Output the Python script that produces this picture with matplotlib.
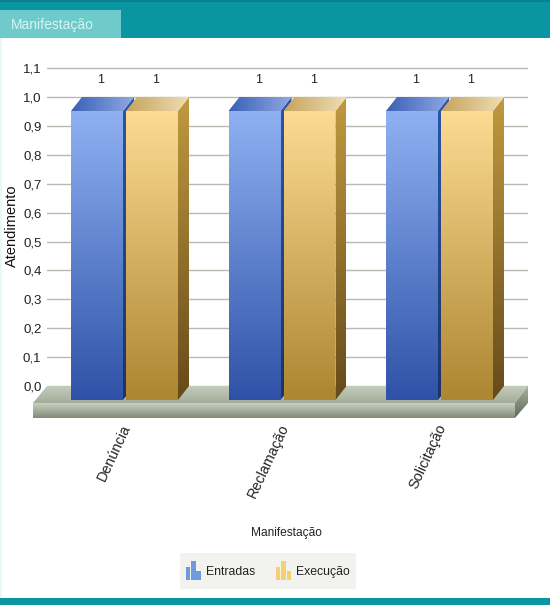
import matplotlib
matplotlib.use("Agg")
import matplotlib.pyplot as plt
import numpy as np
from matplotlib.colors import LinearSegmentedColormap
from matplotlib.legend_handler import HandlerBase
from matplotlib.patches import Patch, Polygon, Rectangle

plt.rcParams['font.family'] = ['Liberation Sans', 'DejaVu Sans']

categories = ["Denúncia", "Reclamação", "Solicitação"]
entradas = [1, 1, 1]
execucao = [1, 1, 1]
series_names = ["Entradas", "Execução"]
y_ticks = [0.0, 0.1, 0.2, 0.3, 0.4, 0.5, 0.6, 0.7, 0.8, 0.9, 1.0, 1.1]

# layout in pixels of the picture
W, H = 550, 605
px_x = 157.5   # one category
px_y = 289.0   # one unit of value
zero_y = 386
depth_x = 11 / px_x
depth_y = 14 / px_y
bar_w = 52 / px_x
bar_gap = 2 / px_x


def gradient(ax, verts, c0, c1, horizontal=False):
    # c0 is the bottom (or left) colour, c1 the top (or right) one
    verts = np.array(verts)
    cmap = LinearSegmentedColormap.from_list("g", [c0, c1])
    data = np.linspace(0, 1, 128).reshape(1, -1) if horizontal else np.linspace(0, 1, 128).reshape(-1, 1)
    ext = (verts[:, 0].min(), verts[:, 0].max(), verts[:, 1].min(), verts[:, 1].max())
    im = ax.imshow(data, cmap=cmap, extent=ext, aspect="auto", origin="lower", zorder=3, interpolation="bilinear")
    poly = Polygon(verts, closed=True, transform=ax.transData, fc="none", ec="none")
    im.set_clip_box(ax.figure.bbox)
    im.set_clip_path(poly)


def bar3d(ax, x, v, front, side, top):
    y0, y1 = -depth_y, v - depth_y
    x1 = x + bar_w
    gradient(ax, [(x, y0), (x1, y0), (x1, y1), (x, y1)], front[0], front[1])
    gradient(ax, [(x1, y0), (x1 + depth_x, y0 + depth_y), (x1 + depth_x, y1 + depth_y), (x1, y1)], side[0], side[1])
    gradient(ax, [(x, y1), (x1, y1), (x1 + depth_x, y1 + depth_y), (x + depth_x, y1 + depth_y)], top[0], top[1], horizontal=True)


class BarsIcon(HandlerBase):
    def create_artists(self, legend, orig, xd, yd, width, height, fontsize, trans):
        out = []
        for i, h in enumerate([9.5, 14, 6.5]):
            out.append(Rectangle((i * 3.8, -4), 3.1, h, fc=orig.get_facecolor(), ec="none", transform=trans))
        return out


fig = plt.figure(figsize=(W / 100, H / 100), dpi=100, facecolor="white")

# page around the chart
chrome = fig.add_axes([0, 0, 1, 1], zorder=-1)
chrome.set_xlim(0, W)
chrome.set_ylim(H, 0)
chrome.axis("off")
chrome.add_patch(Rectangle((0, 2), W, 36, fc="#0a95a3", ec="none"))
chrome.add_patch(Rectangle((0, 0), W, 2, fc="#0c7f8c", ec="none"))
chrome.add_patch(Rectangle((0, 10), 121, 28, fc="#6fcaca", ec="none"))
chrome.add_patch(Rectangle((0, 598), W, 7, fc="#0a95a3", ec="none"))
chrome.add_patch(Rectangle((0, 38), 2, 560, fc="#e6fafa", ec="none"))
chrome.text(11, 25, "Manifestação", color="#d8f4f2", fontsize=10, va="center", ha="left")

# main axes: from x 47 to 528, y 60 to 420
ax = fig.add_axes([47 / W, (H - 420) / H, (528 - 47) / W, (420 - 60) / H])
ax.patch.set_alpha(0)
for s in ax.spines.values():
    s.set_visible(False)

xpos = np.arange(len(categories))
center_0 = 124
xlim = ((47 - center_0) / px_x, (528 - center_0) / px_x)
ylim = ((zero_y - 420) / px_y, (zero_y - 60) / px_y)

# floor
fl = -17 / px_y
fr = -32 / px_y
fx0, fx1 = xlim[0], xlim[1]
dfx = 14 / px_x
gradient(ax, [(fx0 - dfx, fl), (fx1 - dfx + 1 / px_x, fl), (fx1, 0), (fx0, 0)], "#a4ac9a", "#c4cdbc")
gradient(ax, [(fx0 - dfx, fr), (fx1 - dfx + 1 / px_x, fr), (fx1 - dfx + 1 / px_x, fl), (fx0 - dfx, fl)], "#7f8b7a", "#c8d0c0")
gradient(ax, [(fx1 - dfx + 1 / px_x, fr), (fx1, fl), (fx1, 0), (fx1 - dfx + 1 / px_x, fl)], "#5f6a58", "#a8b09e")

blue = dict(front=("#2f52a8", "#8fb1f2"), side=("#1b3468", "#2d55ab"), top=("#3a60b6", "#90a9e4"))
gold = dict(front=("#ad8632", "#fcdb92"), side=("#664a1a", "#c09a40"), top=("#c6a45c", "#f0deb4"))

for i, x in enumerate(xpos):
    left = x - bar_w - bar_gap / 2
    right = x + bar_gap / 2 + 1 / px_x
    bar3d(ax, left, entradas[i], **blue)
    bar3d(ax, right, execucao[i], **gold)
    ax.text(left + bar_w / 2 + 4 / px_x, entradas[i] + 17 / px_y, str(entradas[i]), ha="center", va="center", fontsize=9, color="#222222")
    ax.text(right + bar_w / 2 + 4 / px_x, execucao[i] + 17 / px_y, str(execucao[i]), ha="center", va="center", fontsize=9, color="#222222")

ax.set_xlim(xlim)
ax.set_ylim(ylim)
ax.set_yticks(y_ticks)
ax.set_yticklabels([f"{v:.1f}".replace(".", ",") for v in y_ticks], fontsize=9.5, color="#222222")
ax.tick_params(axis="y", length=0, pad=4)
ax.grid(axis="y", color="#b9b9b0", linewidth=1)
ax.set_axisbelow(True)
ax.set_xticks(xpos)
ax.set_xticklabels([])
ax.tick_params(axis="x", length=0)

for x, name in zip(xpos, categories):
    ax.annotate(name, (x, -36 / px_y), xytext=(-3, 0), textcoords="offset pixels", rotation=65,
                rotation_mode="anchor", ha="right", va="top", fontsize=10.4, color="#222222", annotation_clip=False)

fig.text(12 / W, 1 - 226 / H, "Atendimento", rotation=90, ha="center", va="center", fontsize=10.5, color="#111111")
fig.text(286 / W, 1 - 533 / H, "Manifestação", ha="center", va="center", fontsize=8.6, color="#222222")

handles = [Patch(facecolor="#6f9ae0"), Patch(facecolor="#f5d070")]
leg = fig.legend(handles, series_names, handler_map={Patch: BarsIcon()}, loc="center",
                 bbox_to_anchor=(268 / W, 1 - 571 / H), ncol=2, frameon=True, fontsize=8.8,
                 facecolor="#f2f2ef", edgecolor="none", framealpha=1, handlelength=1.3, handleheight=2.6,
                 handletextpad=0.35, columnspacing=1.7, borderpad=0.5, borderaxespad=0, fancybox=True)
for t in leg.get_texts():
    t.set_color("#222222")

fig.savefig("out.png", dpi=100)
